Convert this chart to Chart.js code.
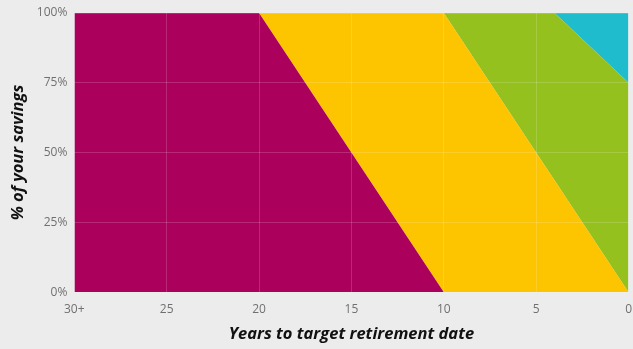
<!DOCTYPE html>
<html>
<head>
<meta charset="utf-8">
<script src="https://cdn.jsdelivr.net/npm/chart.js@4/dist/chart.umd.min.js"></script>
<style>
    html, body { margin: 0; padding: 0; background: #ececec; overflow: hidden; }
    #wrap { position: relative; width: 643px; height: 349px; }
</style>
</head>
<body>
<div id="wrap"><canvas id="glidePath"></canvas></div>
<script>
// years before the target date, and the share (%) held in each fund at that point
const years = [30, 20, 10, 4, 0];
const growthShare = [100, 100, 0, 0, 0];
const balancedShare = [0, 0, 100, 40, 0];
const cautiousShare = [0, 0, 0, 60, 75];
const cashShare = [0, 0, 0, 0, 25];
const yTicks = [0, 25, 50, 75, 100];

const toPoints = shares => years.map((y, i) => ({ x: y, y: shares[i] }));

function area(label, shares, color, fill) {
    return {
        label: label,
        data: toPoints(shares),
        backgroundColor: color,
        borderWidth: 0,
        pointRadius: 0,
        tension: 0,
        fill: fill
    };
}

const tickFont = { family: "'Open Sans', sans-serif", size: 12, lineHeight: 1 };
const titleFont = { family: "'Open Sans', sans-serif", size: 16.5, weight: "bold", style: "italic" };
// grid sits above the filled areas
const gridOpts = { color: "rgba(255,255,255,0.16)", drawTicks: false, z: 1 };

new Chart(document.getElementById("glidePath"), {
    type: "line",
    data: {
        datasets: [
            area("Growth", growthShare, "#ac005d", "origin"),
            area("Balanced", balancedShare, "#fdc400", "-1"),
            area("Cautious", cautiousShare, "#95c11f", "-1"),
            area("Cash", cashShare, "#1ebccc", "-1")
        ]
    },
    options: {
        responsive: true,
        maintainAspectRatio: false,
        animation: false,
        layout: { padding: { top: 1, bottom: 7, left: 8, right: 0 } },
        plugins: { legend: { display: false }, tooltip: { enabled: false } },
        scales: {
            x: {
                type: "linear",
                reverse: true,
                min: 0,
                max: 30,
                border: { display: false },
                grid: gridOpts,
                ticks: {
                    stepSize: 5,
                    padding: 11,
                    color: "#707070",
                    font: tickFont,
                    callback: v => v === 30 ? "30+" : v
                },
                title: {
                    display: true,
                    text: "Years to target retirement date",
                    color: "#111",
                    font: { ...titleFont, lineHeight: 0.96 },
                    padding: { top: 0, bottom: 0 }
                }
            },
            y: {
                stacked: true,
                min: 0,
                max: 100,
                border: { display: false },
                grid: gridOpts,
                afterBuildTicks: axis => { axis.ticks = yTicks.map(v => ({ value: v })); },
                ticks: {
                    padding: 7,
                    color: "#707070",
                    font: tickFont,
                    callback: v => v + "%"
                },
                title: {
                    display: true,
                    text: "% of your savings",
                    color: "#111",
                    font: titleFont,
                    padding: { top: 0, bottom: 2 }
                }
            }
        }
    }
});
</script>
</body>
</html>
